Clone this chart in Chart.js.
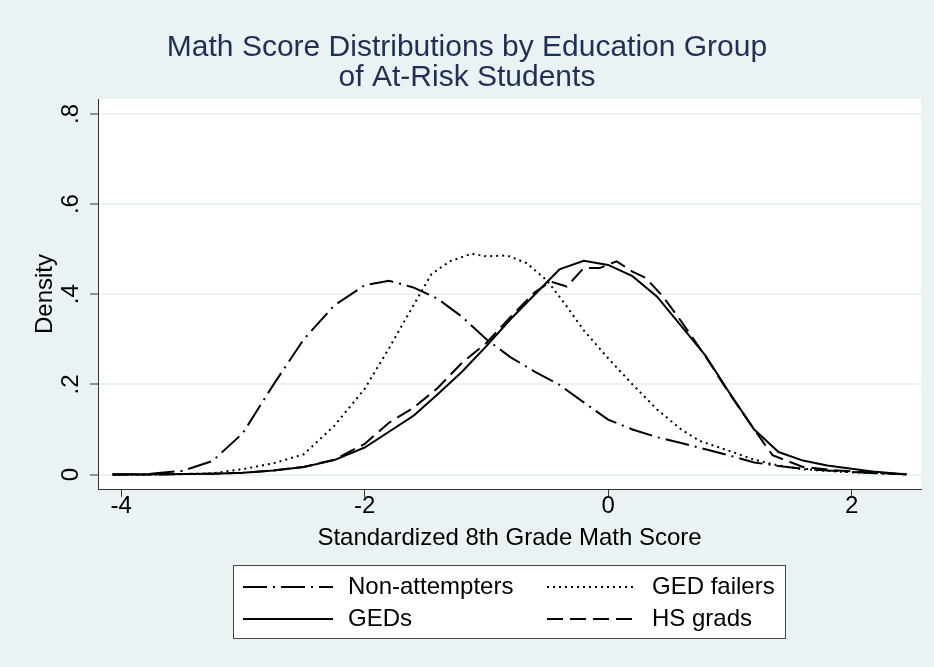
<!DOCTYPE html>
<html lang="en">
<head>
<meta charset="UTF-8">
<title>Math Score Distributions</title>
<script src="https://cdn.jsdelivr.net/npm/chart.js"></script>
<style>
  html, body { margin: 0; padding: 0; background: #eaf2f3; }
  #wrap { width: 934px; height: 667px; }
</style>
</head>
<body>
<div id="wrap"><canvas id="densityChart" width="934" height="667"></canvas></div>
<script>
// kernel density values
const scoreGrid = [-4.07, -3.8, -3.5, -3.25, -3.0, -2.75, -2.5, -2.25, -2.0, -1.8, -1.6, -1.4, -1.2, -1.0,
                   -0.8, -0.6, -0.4, -0.2, 0.0, 0.2, 0.4, 0.6, 0.8, 1.0, 1.2, 1.4, 1.6, 1.8, 2.0, 2.2, 2.45];
const nonAttempters = [0, 0.001, 0.008, 0.03, 0.092, 0.199, 0.30, 0.375, 0.42, 0.43, 0.415, 0.39, 0.35, 0.30,
                       0.26, 0.228, 0.199, 0.16, 0.122, 0.10, 0.083, 0.07, 0.056, 0.042, 0.027, 0.019, 0.013, 0.009, 0.006, 0.003, 0.001];
const gedFailerX = [-4.07, -3.8, -3.5, -3.25, -3.0, -2.75, -2.5, -2.25, -2.0, -1.8, -1.6, -1.45, -1.3, -1.12, -1.0,
                    -0.83, -0.67, -0.5, -0.34, -0.2, 0.0, 0.2, 0.4, 0.6, 0.75, 1.0, 1.2, 1.4, 1.6, 1.8, 2.0, 2.2, 2.45];
const gedFailers = [0, 0, 0.001, 0.003, 0.012, 0.025, 0.045, 0.108, 0.19, 0.28, 0.375, 0.445, 0.473, 0.49, 0.484,
                    0.486, 0.469, 0.43, 0.373, 0.32, 0.258, 0.20, 0.145, 0.10, 0.075, 0.052, 0.033, 0.02, 0.012, 0.008, 0.005, 0.003, 0.001];
const geds = [0, 0, 0.001, 0.002, 0.004, 0.009, 0.017, 0.032, 0.06, 0.095, 0.13, 0.178, 0.228, 0.285,
              0.345, 0.40, 0.455, 0.474, 0.465, 0.44, 0.395, 0.33, 0.264, 0.18, 0.10, 0.05, 0.031, 0.02, 0.013, 0.006, 0];
const hsGradX = [-4.07, -3.8, -3.5, -3.25, -3.0, -2.75, -2.5, -2.25, -2.0, -1.8, -1.6, -1.4, -1.2, -1.0, -0.8, -0.6,
                 -0.47, -0.34, -0.2, -0.07, 0.07, 0.2, 0.31, 0.45, 0.6, 0.8, 1.0, 1.2, 1.35, 1.6, 1.8, 2.0, 2.2, 2.45];
const hsGrads = [0, 0, 0.001, 0.002, 0.004, 0.009, 0.017, 0.033, 0.068, 0.115, 0.148, 0.192, 0.248, 0.292, 0.35, 0.405,
                 0.428, 0.417, 0.458, 0.458, 0.473, 0.45, 0.436, 0.395, 0.34, 0.262, 0.178, 0.1, 0.043, 0.017, 0.011, 0.007, 0.004, 0];

const xTickValues = [-4, -2, 0, 2];
const yTickValues = [0, 0.2, 0.4, 0.6, 0.8];
const yTickLabels = ['0', '.2', '.4', '.6', '.8'];

const FONT = '"Liberation Sans", Arial, sans-serif';
const toPoints = (xs, ys) => xs.map((x, i) => ({ x: x, y: ys[i] }));

// grey outer region, white plot region
const backdrop = {
    id: 'backdrop',
    beforeDraw(chart) {
        const { ctx, chartArea: a } = chart;
        ctx.save();
        ctx.fillStyle = '#eaf2f3';
        ctx.fillRect(0, 0, chart.width, chart.height);
        ctx.fillStyle = '#ffffff';
        ctx.fillRect(a.left, a.top, a.right - a.left, a.bottom - a.top);
        ctx.restore();
    }
};

// stata puts the y labels sideways, chart.js can't rotate y ticks
const sideYLabels = {
    id: 'sideYLabels',
    afterDraw(chart) {
        const s = chart.scales.y, ctx = chart.ctx;
        ctx.save();
        ctx.font = '24px ' + FONT;
        ctx.fillStyle = '#000';
        ctx.textAlign = 'center';
        ctx.textBaseline = 'middle';
        s.ticks.forEach(t => {
            ctx.save();
            ctx.translate(71, s.getPixelForValue(t.value));
            ctx.rotate(-Math.PI / 2);
            ctx.fillText(t.label, 0, 0);
            ctx.restore();
        });
        ctx.restore();
    }
};

// boxed 2x2 legend under the x axis
const boxLegend = {
    id: 'boxLegend',
    afterDraw(chart) {
        const ctx = chart.ctx;
        const cols = [243, 547], rows = [587, 619];
        ctx.save();
        ctx.fillStyle = '#fff';
        ctx.fillRect(233.5, 565.5, 552, 73);
        ctx.strokeStyle = '#444';
        ctx.lineWidth = 1;
        ctx.strokeRect(233.5, 565.5, 552, 73);
        ctx.font = '24px ' + FONT;
        ctx.textBaseline = 'middle';
        chart.data.datasets.forEach((ds, i) => {
            const x = cols[i % 2], y = rows[Math.floor(i / 2)];
            ctx.beginPath();
            ctx.setLineDash(ds.borderDash || []);
            ctx.lineWidth = ds.borderWidth;
            ctx.strokeStyle = ds.borderColor;
            ctx.moveTo(x, y);
            ctx.lineTo(x + 90, y);
            ctx.stroke();
            ctx.setLineDash([]);
            ctx.fillStyle = '#000';
            ctx.fillText(ds.label, x + 105, y);
        });
        ctx.restore();
    }
};

const lineStyle = { borderColor: '#000', borderWidth: 2, pointRadius: 0, tension: 0, fill: false };

new Chart(document.getElementById('densityChart'), {
    type: 'line',
    data: {
        datasets: [
            { label: 'Non-attempters', data: toPoints(scoreGrid, nonAttempters), borderDash: [24, 6, 2, 6], ...lineStyle },
            { label: 'GED failers', data: toPoints(gedFailerX, gedFailers), borderDash: [2, 4], ...lineStyle },
            { label: 'GEDs', data: toPoints(scoreGrid, geds), borderDash: [], ...lineStyle },
            { label: 'HS grads', data: toPoints(hsGradX, hsGrads), borderDash: [16, 7], ...lineStyle }
        ]
    },
    options: {
        responsive: false,
        animation: false,
        layout: { padding: { left: 13, right: 13, top: 0, bottom: 108 } },
        plugins: {
            legend: { display: false },
            tooltip: { enabled: false },
            title: {
                display: true,
                text: ['Math Score Distributions by Education Group', 'of At-Risk Students'],
                color: '#1f2f55',
                font: { family: FONT, size: 30, weight: 'normal', lineHeight: 1 },
                padding: { top: 33, bottom: 6 }
            }
        },
        scales: {
            x: {
                type: 'linear',
                min: -4.19,
                max: 2.57,
                afterBuildTicks: s => { s.ticks = xTickValues.map(v => ({ value: v })); },
                afterFit: s => { s.height = 70; },
                ticks: {
                    color: '#000',
                    font: { family: FONT, size: 24, lineHeight: 1 },
                    padding: -3,
                    callback: v => String(v)
                },
                grid: { drawOnChartArea: false, drawTicks: true, tickLength: 8, tickColor: '#333', tickWidth: 1 },
                border: { display: true, color: '#333', width: 1 },
                title: {
                    display: true,
                    text: 'Standardized 8th Grade Math Score',
                    color: '#000',
                    font: { family: FONT, size: 24, lineHeight: 1 },
                    padding: { top: 0, bottom: 9 }
                }
            },
            y: {
                min: -0.032,
                max: 0.833,
                afterBuildTicks: s => { s.ticks = yTickValues.map(v => ({ value: v })); },
                afterFit: s => { s.width = 85; },
                ticks: {
                    display: false,
                    callback: (v, i) => yTickLabels[i]
                },
                grid: { color: '#eaf2f3', lineWidth: 2, drawTicks: true, tickLength: 8, tickColor: '#333', tickWidth: 1 },
                border: { display: true, color: '#333', width: 1 },
                title: {
                    display: true,
                    text: 'Density',
                    color: '#000',
                    font: { family: FONT, size: 24, lineHeight: 1 },
                    padding: { top: 20, bottom: 0 }
                }
            }
        }
    },
    plugins: [backdrop, sideYLabels, boxLegend]
});
</script>
</body>
</html>
